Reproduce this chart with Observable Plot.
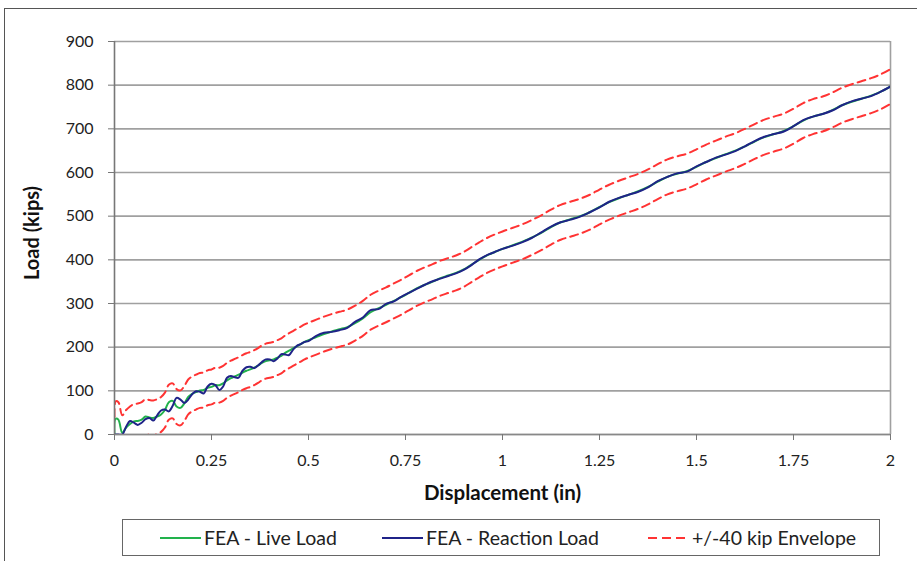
<!DOCTYPE html>
<html><head><meta charset="utf-8">
<script src="https://cdn.jsdelivr.net/npm/d3@7"></script>
<script src="https://cdn.jsdelivr.net/npm/@observablehq/plot@0.6"></script>
<style>
body{margin:0;background:#fff;}
#wrap{position:relative;width:917px;height:561px;overflow:hidden;background:#fff;font-family:Lato,"Open Sans",sans-serif;}
#frame{position:absolute;left:4px;top:8px;width:960px;height:620px;border-left:1.5px solid #555;border-top:1.5px solid #555;}
#chart{position:absolute;left:0;top:0;}
#legend{position:absolute;left:122px;top:519px;width:756px;height:35px;border:1.5px solid #666;background:#fff;}
.item{position:absolute;top:0;height:35px;display:flex;align-items:center;font-size:19.5px;color:#222;white-space:nowrap;}
.item svg{margin-right:3px;}
</style></head><body>
<div id="wrap"><div id="frame"></div><div id="chart"></div><div id="legend"></div></div>
<script>
const xTicks = [0, 0.25, 0.5, 0.75, 1, 1.25, 1.5, 1.75, 2];
const yTicks = [0, 100, 200, 300, 400, 500, 600, 700, 800, 900];
const seriesNames = ["FEA - Live Load", "FEA - Reaction Load", "+/-40 kip Envelope"];

const displacement = [0,0.003,0.01,0.02,0.03,0.04,0.05,0.06,0.07,0.08,0.09,0.10,0.11,0.12,0.13,0.14,0.15,0.16,0.17,0.18,0.19,0.20,0.21,0.22,0.23,0.24,0.25,0.26,0.27,0.28,0.29,0.30,0.31,0.32,0.33,0.34,0.35,0.36,0.37,0.38,0.39,0.40,0.41,0.42,0.43,0.44,0.45,0.46,0.47,0.48,0.49,0.50,
0.52,0.54,0.56,0.58,0.60,0.62,0.64,0.66,0.68,0.70,0.72,0.74,0.76,0.78,0.80,0.82,0.84,0.86,0.88,0.90,0.92,0.94,0.96,0.98,1.00,
1.025,1.05,1.075,1.10,1.125,1.15,1.175,1.20,1.225,1.25,1.275,1.30,1.325,1.35,1.375,1.40,1.425,1.45,1.475,1.50,
1.525,1.55,1.575,1.60,1.625,1.65,1.675,1.70,1.725,1.75,1.775,1.80,1.825,1.85,1.875,1.90,1.925,1.95,1.975,2.00];

const liveLoad = [0,36,34,4,16,24,30,31,34,41,39,38,41,46,56,74,77,64,61,71,86,93,97,101,102,107,109,113,113,117,124,129,
133,137,142,146,149,153,158,164,168,170,172,176,180,187,192,197,202,207,212,216,
223,230,236,241,246,255,266,280,289,297,306,315,325,335,343,350,358,364,370,378,389,400,410,418,425,
433,441,451,462,475,486,493,500,509,521,532,541,549,557,567,579,590,597,603,613,
624,633,642,650,660,671,681,688,695,706,719,728,734,743,754,762,769,776,785,797];

const reactionLoad = [0,0,0,0,18,31,27,22,27,35,38,32,44,55,57,53,66,84,80,72,80,92,99,98,94,110,116,113,102,110,130,134,
131,130,146,154,155,152,158,166,172,172,168,174,184,183,182,194,203,207,212,214,
226,233,235,239,244,258,268,285,287,299,305,316,325,334,343,351,357,363,369,377,388,401,411,418,425,
432,440,450,463,476,486,492,499,509,520,533,542,549,556,566,580,590,598,602,614,
624,634,641,649,660,672,682,688,694,706,720,728,734,742,754,763,769,775,785,797];

const upperEnvelope = [40,76,74,44,56,64,70,71,74,81,79,78,81,86,96,114,117,104,101,111,126,133,137,141,142,147,149,153,153,157,164,169,
173,177,182,186,189,193,198,204,208,210,212,216,220,227,232,237,242,247,252,256,
263,270,276,281,286,295,306,320,329,337,346,355,365,375,383,390,398,404,410,418,429,440,450,458,465,
473,481,491,502,515,526,533,540,549,561,572,581,589,597,607,619,630,637,643,653,
664,673,682,690,700,711,721,728,735,746,759,768,774,783,794,802,809,816,825,837];

const lowerEnvelope = [-40,-4,-6,-36,-24,-16,-10,-9,-6,1,-1,-2,1,6,16,34,37,24,21,31,46,53,57,61,62,67,69,73,73,77,84,89,
93,97,102,106,109,113,118,124,128,130,132,136,140,147,152,157,162,167,172,176,
183,190,196,201,206,215,226,240,249,257,266,275,285,295,303,310,318,324,330,338,349,360,370,378,385,
393,401,411,422,435,446,453,460,469,481,492,501,509,517,527,539,550,557,563,573,
584,593,602,610,620,631,641,648,655,666,679,688,694,703,714,722,729,736,745,757];

const colors = {live: "#22b24c", reaction: "#1f2388", envelope: "#ff3333"};

const rows = displacement.map((d, i) => ({d, live: liveLoad[i], reaction: reactionLoad[i], upper: upperEnvelope[i], lower: lowerEnvelope[i]}));

const lineOpts = {x: "d", strokeWidth: 2, clip: true, curve: "catmull-rom"};

const chart = Plot.plot({
  width: 917,
  height: 515,
  marginLeft: 114,
  marginRight: 27,
  marginTop: 41,
  marginBottom: 81,
  style: {fontFamily: "Lato, 'Open Sans', sans-serif", fontSize: "16px", color: "#222", background: "transparent", overflow: "visible"},
  x: {domain: [0, 2]},
  y: {domain: [0, 900]},
  marks: [
    Plot.gridY(yTicks, {stroke: "#a0a0a0", strokeOpacity: 1, strokeWidth: 1.6}),
    Plot.ruleX([2], {stroke: "#a0a0a0", strokeWidth: 1.6}),
    Plot.line(rows, {...lineOpts, y: "upper", stroke: colors.envelope, strokeDasharray: "8,5"}),
    Plot.line(rows, {...lineOpts, y: "lower", stroke: colors.envelope, strokeDasharray: "8,5"}),
    Plot.line(rows, {...lineOpts, y: "live", stroke: colors.live}),
    Plot.line(rows, {...lineOpts, y: "reaction", stroke: colors.reaction}),
    Plot.ruleY([0], {stroke: "#888", strokeWidth: 1.6}),
    Plot.ruleX([0], {stroke: "#777", strokeWidth: 1.6}),
    Plot.axisX({ticks: xTicks, tickSize: 6, tickPadding: 14, tickFormat: d => String(d), label: null, fontSize: 16, stroke: "#777", fill: "#222"}),
    Plot.axisY({ticks: yTicks, tickSize: 6, tickPadding: 15, tickFormat: d => String(d), label: null, fontSize: 16, stroke: "#777", fill: "#222"}),
    Plot.text(["Displacement (in)"], {frameAnchor: "bottom", dy: 59, lineAnchor: "middle", textAnchor: "middle", fontWeight: "bold", fontSize: 20.5, fill: "#111"}),
    Plot.text(["Load (kips)"], {frameAnchor: "left", dx: -82, dy: -5, rotate: -90, lineAnchor: "middle", textAnchor: "middle", fontWeight: "bold", fontSize: 20, fill: "#111"})
  ]
});
document.getElementById("chart").appendChild(chart);

// legend
const legend = document.getElementById("legend");
const legendItems = [
  {name: seriesNames[0], color: colors.live, dash: null, left: 37},
  {name: seriesNames[1], color: colors.reaction, dash: null, left: 259},
  {name: seriesNames[2], color: colors.envelope, dash: "9,5", left: 525}
];
for (const it of legendItems) {
  const div = document.createElement("div");
  div.className = "item";
  div.style.left = it.left + "px";
  div.innerHTML = `<svg width="41" height="6"><line x1="0" x2="41" y1="3" y2="3" stroke="${it.color}" stroke-width="2" ${it.dash ? `stroke-dasharray="${it.dash}"` : ""}/></svg><span>${it.name}</span>`;
  legend.appendChild(div);
}
</script>
</body></html>
